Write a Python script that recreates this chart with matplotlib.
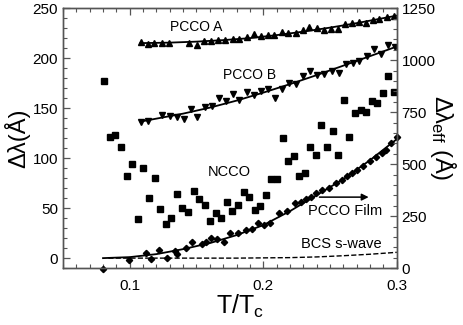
import numpy as np
import matplotlib
matplotlib.use("Agg")
import matplotlib.pyplot as plt
from matplotlib.ticker import MultipleLocator

plt.rcParams['font.family'] = ['Liberation Sans', 'DejaVu Sans']
plt.rcParams['mathtext.fontset'] = 'custom'
plt.rcParams['mathtext.rm'] = 'Liberation Sans'
plt.rcParams['mathtext.it'] = 'Liberation Sans'

# NCCO crystal (squares)
ncco_t = [0.0807, 0.0852, 0.0890, 0.0934, 0.0977, 0.1017, 0.1059, 0.1100, 0.1144, 0.1187,
          0.1227, 0.1270, 0.1311, 0.1352, 0.1394, 0.1434, 0.1479, 0.1520, 0.1561, 0.1603,
          0.1644, 0.1686, 0.1728, 0.1768, 0.1811, 0.1853, 0.1894, 0.1936, 0.1978, 0.2021,
          0.2061, 0.2103, 0.2146, 0.2185, 0.2228, 0.2270, 0.2310, 0.2352, 0.2395, 0.2435,
          0.2478, 0.2520, 0.2562, 0.2603, 0.2645, 0.2687, 0.2730, 0.2770, 0.2812, 0.2854,
          0.2895, 0.2937, 0.2980]
ncco_dl = [177.0, 121.6, 123.6, 111.6, 82.6, 94.3, 39.6, 90.6, 60.0, 80.6,
           49.3, 34.6, 40.0, 64.0, 50.6, 46.6, 67.0, 59.3, 53.6, 37.3,
           45.0, 40.0, 56.0, 47.0, 53.6, 66.0, 61.6, 48.0, 52.3, 63.0,
           79.6, 79.6, 120.6, 97.6, 102.3, 82.0, 85.3, 111.3, 103.0, 133.0,
           111.3, 127.0, 103.3, 158.3, 121.3, 145.0, 148.6, 146.6, 157.6, 155.3,
           165.6, 182.0, 166.6]

# PCCO crystal A (up triangles)
pcco_a_t = [0.1082, 0.1134, 0.1184, 0.1239, 0.1292, 0.1446, 0.1501, 0.1556, 0.1609, 0.1663,
            0.1717, 0.1770, 0.1822, 0.1876, 0.1928, 0.1981, 0.2034, 0.2084, 0.2138, 0.2189,
            0.2242, 0.2296, 0.2343, 0.2400, 0.2453, 0.2505, 0.2560, 0.2615, 0.2665, 0.2715,
            0.2767, 0.2820, 0.2869, 0.2925, 0.2982]
pcco_a_dl = [216.6, 214.3, 215.6, 215.3, 215.0, 215.3, 213.0, 217.3, 217.3, 217.8,
             218.1, 218.8, 219.3, 220.8, 224.0, 222.3, 222.8, 222.8, 226.6, 225.6,
             225.6, 228.3, 231.0, 230.0, 228.3, 229.3, 229.0, 234.0, 235.6, 236.6,
             235.6, 238.0, 239.0, 241.0, 242.6]
pcco_a_fit_t = [0.108, 0.13, 0.15, 0.17, 0.19, 0.21, 0.23, 0.25, 0.27, 0.29, 0.30]
pcco_a_fit = [215.0, 215.5, 216.5, 218.0, 220.0, 223.0, 226.5, 230.5, 235.0, 240.0, 242.5]

# PCCO crystal B (down triangles)
pcco_b_t = [0.1084, 0.1137, 0.1245, 0.1298, 0.1352, 0.1404, 0.1457, 0.1507, 0.1562, 0.1614,
            0.1667, 0.1721, 0.1771, 0.1822, 0.1877, 0.1931, 0.1983, 0.2036, 0.2090, 0.2143,
            0.2195, 0.2245, 0.2300, 0.2352, 0.2405, 0.2454, 0.2513, 0.2564, 0.2616, 0.2669,
            0.2719, 0.2775, 0.2830, 0.2878, 0.2932, 0.2987]
pcco_b_dl = [136.3, 136.8, 142.8, 141.8, 140.8, 138.8, 149.0, 141.6, 151.6, 152.3,
             160.0, 157.3, 164.3, 158.0, 166.5, 163.6, 167.6, 169.6, 160.0, 169.0,
             175.0, 173.8, 182.0, 187.6, 183.3, 183.8, 187.3, 185.3, 194.0, 195.3,
             196.8, 202.3, 209.0, 204.0, 213.3, 211.6]
pcco_b_fit_t = [0.108, 0.12, 0.14, 0.16, 0.18, 0.20, 0.22, 0.24, 0.26, 0.28, 0.30]
pcco_b_fit = [136.5, 139.5, 144.5, 150.5, 157.5, 165.5, 174.0, 183.0, 192.5, 202.0, 211.6]

# PCCO film (diamonds)
film_t = [0.0797, 0.0997, 0.1120, 0.1162, 0.1217, 0.1281, 0.1337, 0.1352, 0.1421, 0.1464,
          0.1539, 0.1571, 0.1609, 0.1654, 0.1704, 0.1751, 0.1809, 0.1871, 0.1918, 0.1961,
          0.2003, 0.2051, 0.2118, 0.2176, 0.2238, 0.2281, 0.2320, 0.2355, 0.2395, 0.2438,
          0.2495, 0.2545, 0.2588, 0.2625, 0.2663, 0.2705, 0.2750, 0.2800, 0.2845, 0.2887,
          0.2920, 0.2955, 0.3000]
film_dl = [-10.4, -1.7, 5.3, -1.0, 8.6, 0.3, 7.3, 4.3, 10.6, 16.0,
           14.3, 16.3, 20.0, 19.3, 16.6, 25.3, 25.0, 28.3, 29.6, 35.6,
           33.0, 35.6, 45.0, 47.3, 55.0, 56.6, 59.6, 61.6, 65.0, 68.0,
           70.0, 75.0, 78.3, 82.3, 85.0, 88.3, 92.3, 97.3, 101.6, 105.6,
           108.3, 115.6, 121.6]
film_fit_t = [0.08, 0.10, 0.12, 0.14, 0.16, 0.18, 0.20, 0.22, 0.24, 0.26, 0.28, 0.30]
film_fit = [0.0, 1.0, 4.0, 9.0, 15.0, 23.0, 33.0, 47.0, 63.0, 79.0, 98.0, 119.0]

# BCS s-wave curve (dashed)
bcs_t = [0.084, 0.18, 0.22, 0.24, 0.26, 0.28, 0.30]
bcs_dl = [0.0, 0.0, 0.5, 1.2, 2.4, 3.9, 5.8]

fig, ax = plt.subplots(figsize=(4.63, 3.25), dpi=100)
fig.subplots_adjust(left=0.136, right=0.857, top=0.975, bottom=0.175)

ax.plot(ncco_t, ncco_dl, 's', color='black', markersize=4.3, linestyle='none')
ax.plot(pcco_a_t, pcco_a_dl, '^', color='black', markersize=4.3, linestyle='none')
ax.plot(pcco_a_fit_t, pcco_a_fit, '-', color='black', linewidth=1.3)
ax.plot(pcco_b_t, pcco_b_dl, 'v', color='black', markersize=4.3, linestyle='none')
ax.plot(pcco_b_fit_t, pcco_b_fit, '-', color='black', linewidth=1.3)
ax.plot(film_t, film_dl, 'D', color='black', markersize=3.2, linestyle='none', clip_on=False)
ax.plot(film_fit_t, film_fit, '-', color='black', linewidth=1.3)
ax.plot(bcs_t, bcs_dl, '--', color='black', linewidth=1.0)

# curve labels
ax.text(0.1496, 231.6, 'PCCO A', fontsize=10, ha='center', va='center')
ax.text(0.190, 183.3, 'PCCO B', fontsize=10, ha='center', va='center')
ax.text(0.1746, 86.0, 'NCCO', fontsize=10.5, ha='center', va='center')
ax.text(0.2612, 47.6, 'PCCO Film', fontsize=10.5, ha='center', va='center')
ax.text(0.2588, 14.0, 'BCS s-wave', fontsize=10.5, ha='center', va='center')
ax.annotate('', xy=(0.281, 61.0), xytext=(0.240, 61.0),
            arrowprops=dict(arrowstyle='-|>', color='black', lw=1.1, mutation_scale=10))

ax.set_xlim(0.05, 0.3)
ax.set_ylim(-10, 250)
ax.set_xticks([0.1, 0.2, 0.3])
ax.set_xticklabels(['0.1', '0.2', '0.3'])
ax.set_yticks([0, 50, 100, 150, 200, 250])
ax.xaxis.set_minor_locator(MultipleLocator(0.01))
ax.yaxis.set_minor_locator(MultipleLocator(10))
ax.tick_params(axis='both', which='both', direction='in', labelsize=11, color='#555555')
ax.tick_params(axis='x', which='both', top=True, pad=8)
ax.tick_params(which='major', length=5, width=0.9)
ax.tick_params(which='minor', length=3, width=0.8)
ax.set_xlabel(r'T/T$_{\rm c}$', fontsize=18, labelpad=0, x=0.53)
ax.set_ylabel('Δλ(Å)', fontsize=17, labelpad=2)

# right axis for the effective penetration depth
ax2 = ax.twinx()
ax2.set_ylim(0, 1250)
ax2.set_yticks([0, 250, 500, 750, 1000, 1250])
ax2.yaxis.set_minor_locator(MultipleLocator(50))
ax2.tick_params(axis='y', which='both', direction='in', labelsize=11, color='#555555')
ax2.tick_params(which='major', length=5, width=0.9)
ax2.tick_params(which='minor', length=3, width=0.8)
ax2.set_ylabel(r'$\Delta\lambda_{\rm eff}$ (Å)', fontsize=17, rotation=-90, labelpad=16)

for a in [ax, ax2]:
    for side in a.spines.values():
        side.set_color('#555555')
        side.set_linewidth(1.0)

fig.savefig('out.png', dpi=100)
